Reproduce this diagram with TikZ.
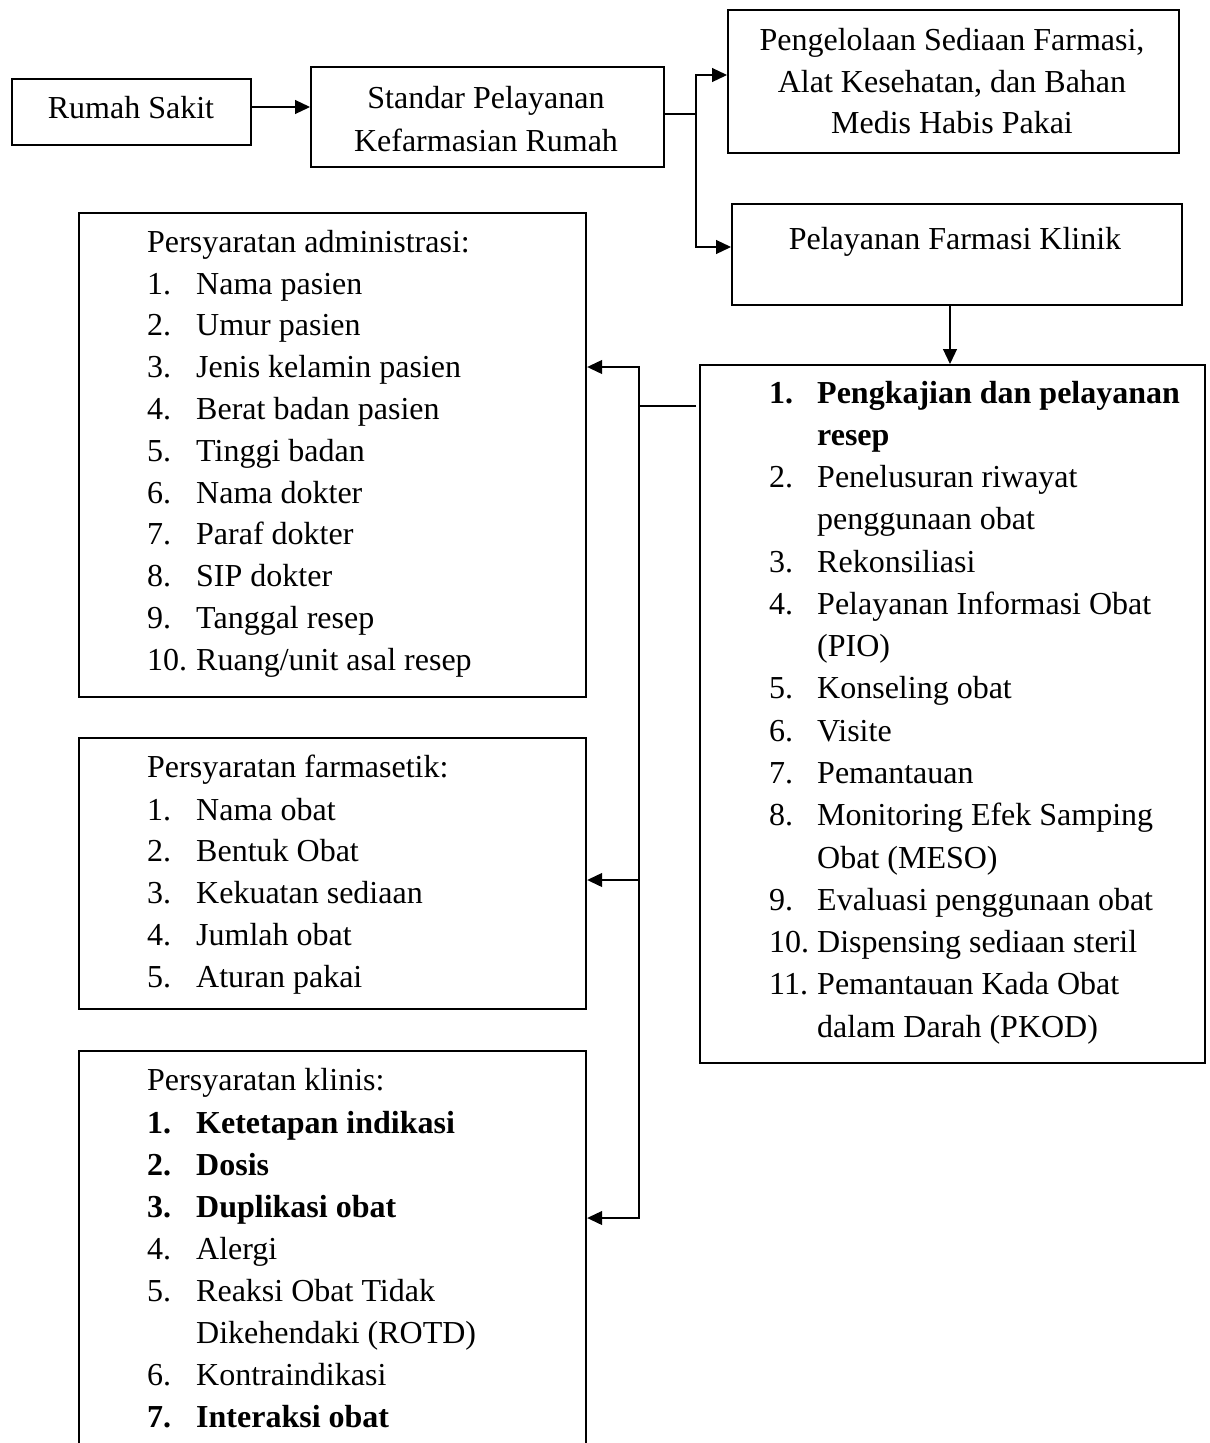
\documentclass[tikz,border=0pt]{standalone}
\usepackage{fontspec}
\setmainfont{Liberation Serif}
\usetikzlibrary{arrows.meta}
\begin{document}
\begin{tikzpicture}[x=1pt,y=-1pt,
  box/.style={draw, line width=2.2pt, inner sep=0pt, anchor=north west},
  conn/.style={line width=1.2pt},
  arr/.style={conn, -{Triangle[length=15pt,width=14pt]}},
  txt/.style={inner sep=0pt, anchor=base west, font=\fontsize{32pt}{42pt}\selectfont},
  ctxt/.style={txt, anchor=base},
  btxt/.style={txt, font=\fontsize{32pt}{42pt}\selectfont\bfseries}]
\clip (0,0) rectangle (1210,1443);
\fill[white] (0,0) rectangle (1210,1443);

% boxes
\node[box, minimum width=239pt, minimum height=66pt] (rs) at (11,78) {};
\node[box, minimum width=353pt, minimum height=100pt] (sp) at (310,66) {};
\node[box, minimum width=451pt, minimum height=143pt] (pg) at (727,9) {};
\node[box, minimum width=450pt, minimum height=101pt] (pk) at (731,203) {};
\node[box, minimum width=505pt, minimum height=698pt] (lk) at (699,364) {};
\node[box, minimum width=507pt, minimum height=484pt] (b1) at (78,212) {};
\node[box, minimum width=507pt, minimum height=271pt] (b2) at (78,737) {};
\node[box, minimum width=507pt, minimum height=450pt] (b3) at (78,1050) {};

% helper coordinates
\coordinate (ya) at (0,107);
\coordinate (j1) at (696,114);
\coordinate (y2) at (0,75);
\coordinate (y3) at (0,247);
\coordinate (xd) at (950,0);
\coordinate (j2) at (639,406);
\coordinate (yb1) at (0,367);
\coordinate (yb2) at (0,880);
\coordinate (yb3) at (0,1218);

% connectors
\draw[arr] (rs.east |- ya) -- (sp.west |- ya);
\draw[arr] (sp.east |- j1) -- (j1) -- (j1 |- y2) -- (pg.west |- y2);
\draw[arr] (j1) -- (j1 |- y3) -- (pk.west |- y3);
\draw[arr] (xd |- pk.south) -- (xd |- lk.north);
\draw[conn] ([xshift=-3pt]lk.west |- j2) -- (j2);
\draw[arr] (j2) -- (j2 |- yb1) -- (b1.east |- yb1);
\draw[arr] (j2) -- (j2 |- yb2) -- (b2.east |- yb2);
\draw[arr] (j2) -- (j2 |- yb3) -- (b3.east |- yb3);

% top texts
\node[ctxt] (trs) at (131,118) {Rumah Sakit};
\node[ctxt] (tsp1) at (486,108) {Standar Pelayanan};
\node[ctxt] (tsp2) at (486,151) {Kefarmasian Rumah};
\node[ctxt] (tpg1) at (952,50) {Pengelolaan Sediaan Farmasi,};
\node[ctxt] (tpg2) at (952,92) {Alat Kesehatan, dan Bahan};
\node[ctxt] (tpg3) at (952,133) {Medis Habis Pakai};
\node[ctxt] (tpk) at (955,249) {Pelayanan Farmasi Klinik};

% box 1
\node[txt] (h1) at (147,252) {Persyaratan administrasi:};
\node[txt] (a1n) at (147,294) {1.};   \node[txt] (a1t) at (196,294) {Nama pasien};
\node[txt] (a2n) at (147,335.8) {2.}; \node[txt] (a2t) at (196,335.8) {Umur pasien};
\node[txt] (a3n) at (147,377.6) {3.}; \node[txt] (a3t) at (196,377.6) {Jenis kelamin pasien};
\node[txt] (a4n) at (147,419.4) {4.}; \node[txt] (a4t) at (196,419.4) {Berat badan pasien};
\node[txt] (a5n) at (147,461.2) {5.}; \node[txt] (a5t) at (196,461.2) {Tinggi badan};
\node[txt] (a6n) at (147,503) {6.};   \node[txt] (a6t) at (196,503) {Nama dokter};
\node[txt] (a7n) at (147,544.8) {7.}; \node[txt] (a7t) at (196,544.8) {Paraf dokter};
\node[txt] (a8n) at (147,586.6) {8.}; \node[txt] (a8t) at (196,586.6) {SIP dokter};
\node[txt] (a9n) at (147,628.4) {9.}; \node[txt] (a9t) at (196,628.4) {Tanggal resep};
\node[txt] (a10n) at (147,670.2) {10.}; \node[txt] (a10t) at (196,670.2) {Ruang/unit asal resep};

% box 2
\node[txt] (h2) at (147,777) {Persyaratan farmasetik:};
\node[txt] (f1n) at (147,820) {1.};    \node[txt] (f1t) at (196,820) {Nama obat};
\node[txt] (f2n) at (147,861.75) {2.}; \node[txt] (f2t) at (196,861.75) {Bentuk Obat};
\node[txt] (f3n) at (147,903.5) {3.};  \node[txt] (f3t) at (196,903.5) {Kekuatan sediaan};
\node[txt] (f4n) at (147,945.25) {4.}; \node[txt] (f4t) at (196,945.25) {Jumlah obat};
\node[txt] (f5n) at (147,987) {5.};    \node[txt] (f5t) at (196,987) {Aturan pakai};

% box 3
\node[txt] (h3) at (147,1090) {Persyaratan klinis:};
\node[btxt] (k1n) at (147,1133) {1.}; \node[btxt] (k1t) at (196,1133) {Ketetapan indikasi};
\node[btxt] (k2n) at (147,1175) {2.}; \node[btxt] (k2t) at (196,1175) {Dosis};
\node[btxt] (k3n) at (147,1217) {3.}; \node[btxt] (k3t) at (196,1217) {Duplikasi obat};
\node[txt] (k4n) at (147,1259) {4.};  \node[txt] (k4t) at (196,1259) {Alergi};
\node[txt] (k5n) at (147,1301) {5.};  \node[txt] (k5t) at (196,1301) {Reaksi Obat Tidak};
\node[txt] (k5u) at (196,1343) {Dikehendaki (ROTD)};
\node[txt] (k6n) at (147,1385) {6.};  \node[txt] (k6t) at (196,1385) {Kontraindikasi};
\node[btxt] (k7n) at (147,1427) {7.}; \node[btxt] (k7t) at (196,1427) {Interaksi obat};

% list box
\node[btxt] (l1n) at (769,403) {1.}; \node[btxt] (l1t) at (817,403) {Pengkajian dan pelayanan};
\node[btxt] (l1u) at (817,445.3) {resep};
\node[txt] (l2n) at (769,487.5) {2.}; \node[txt] (l2t) at (817,487.5) {Penelusuran riwayat};
\node[txt] (l2u) at (817,529.8) {penggunaan obat};
\node[txt] (l3n) at (769,572.1) {3.}; \node[txt] (l3t) at (817,572.1) {Rekonsiliasi};
\node[txt] (l4n) at (769,614.4) {4.}; \node[txt] (l4t) at (817,614.4) {Pelayanan Informasi Obat};
\node[txt] (l4u) at (817,656.6) {(PIO)};
\node[txt] (l5n) at (769,698.9) {5.}; \node[txt] (l5t) at (817,698.9) {Konseling obat};
\node[txt] (l6n) at (769,741.2) {6.}; \node[txt] (l6t) at (817,741.2) {Visite};
\node[txt] (l7n) at (769,783.4) {7.}; \node[txt] (l7t) at (817,783.4) {Pemantauan};
\node[txt] (l8n) at (769,825.7) {8.}; \node[txt] (l8t) at (817,825.7) {Monitoring Efek Samping};
\node[txt] (l8u) at (817,868) {Obat (MESO)};
\node[txt] (l9n) at (769,910.2) {9.}; \node[txt] (l9t) at (817,910.2) {Evaluasi penggunaan obat};
\node[txt] (l10n) at (769,952.5) {10.}; \node[txt] (l10t) at (817,952.5) {Dispensing sediaan steril};
\node[txt] (l11n) at (769,994.8) {11.}; \node[txt] (l11t) at (817,994.8) {Pemantauan Kada Obat};
\node[txt] (l11u) at (817,1037) {dalam Darah (PKOD)};
\end{tikzpicture}
\end{document}
